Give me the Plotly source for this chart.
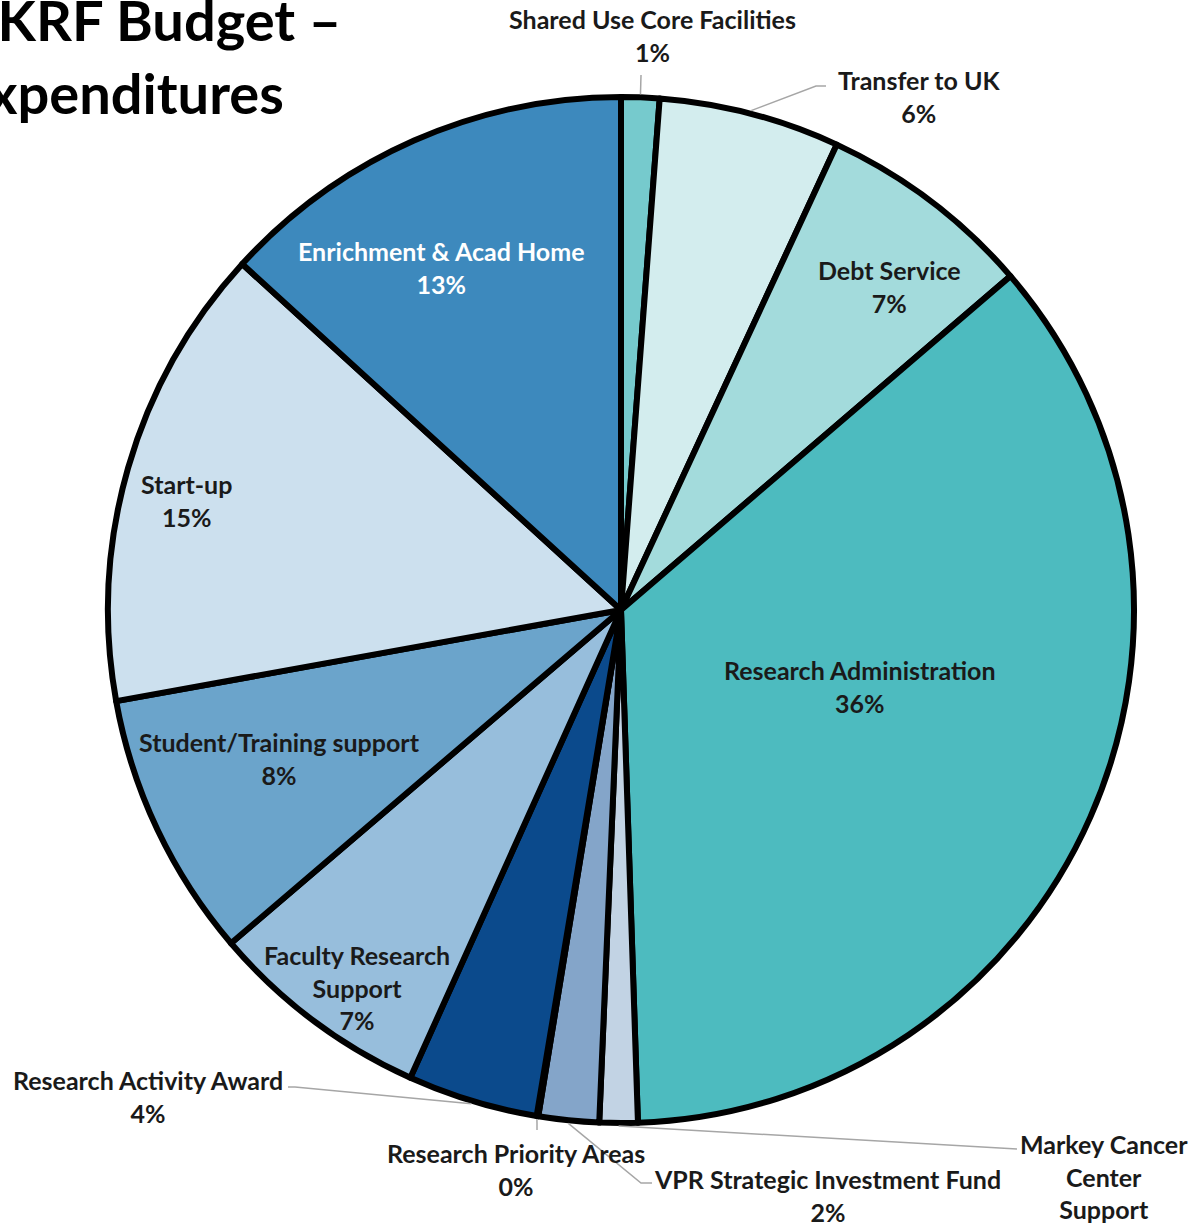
import math
import plotly.graph_objects as go

# Expenditure shares (percent of total budget), clockwise from 12 o'clock
categories = [
    "Shared Use Core Facilities",
    "Transfer to UK",
    "Debt Service",
    "Research Administration",
    "Markey Cancer Center Support",
    "VPR Strategic Investment Fund",
    "Research Priority Areas",
    "Research Activity Award",
    "Faculty Research Support",
    "Student/Training support",
    "Start-up",
    "Enrichment & Acad Home",
]
shares = [1.2, 5.7, 6.8, 35.7, 1.2, 1.9, 0.05, 4.1, 7.0, 8.4, 14.6, 13.2]
colors = [
    "#76CACD", "#D3EDEE", "#A3DBDC", "#4DBBBF", "#C2D3E4", "#84A5C9",
    "#5E8FC0", "#0B4A8C", "#97BEDC", "#6BA4CB", "#CCE0EE", "#3D89BD",
]

W, H = 1189, 1225
CX, CY, R = 621, 610, 513
FONT = "Lato, 'Open Sans', sans-serif"
LABEL_SIZE = 25
total = sum(shares)


def px(x):
    return x / W


def py(y):
    return 1 - y / H


def pct(i):
    return f"{round(shares[i] / total * 100):.0f}%"


def edge_point(i, extra=0):
    """Pixel point on the rim at the middle angle of slice i."""
    start = sum(shares[:i]) / total * 360
    mid = math.radians(start + shares[i] / total * 360 / 2)
    r = R + extra
    return CX + r * math.sin(mid), CY - r * math.cos(mid)


fig = go.Figure(
    go.Pie(
        labels=categories,
        values=shares,
        sort=False,
        direction="clockwise",
        rotation=0,
        textinfo="none",
        marker=dict(colors=colors, line=dict(color="black", width=6)),
        domain=dict(x=[px(CX - R), px(CX + R)], y=[py(CY + R), py(CY - R)]),
        showlegend=False,
    )
)

# label text lines, anchor centre in pixels, text colour
label_specs = {
    0: (["Shared Use Core Facilities"], (652, 35), "#1a1a1a"),
    1: (["Transfer to UK"], (919, 96), "#1a1a1a"),
    2: (["Debt Service"], (889, 286), "#1a1a1a"),
    3: (["Research Administration"], (860, 686), "#1a1a1a"),
    5: (["VPR Strategic Investment Fund"], (827, 1195), "#1a1a1a"),
    6: (["Research Priority Areas"], (516, 1169), "#1a1a1a"),
    7: (["Research Activity Award"], (148, 1096), "#1a1a1a"),
    8: (["Faculty Research", "Support"], (357, 987), "#1a1a1a"),
    9: (["Student/Training support"], (279, 758), "#1a1a1a"),
    10: (["Start-up"], (186, 500), "#1a1a1a"),
    11: (["Enrichment & Acad Home"], (441, 268), "#ffffff"),
}

annotations = []
for i, (lines, (x, y), col) in label_specs.items():
    annotations.append(dict(
        x=px(x), y=py(y), xref="paper", yref="paper",
        xanchor="center", yanchor="middle", showarrow=False,
        text="<br>".join(lines + [pct(i)]),
        font=dict(family=FONT, size=LABEL_SIZE, color=col, weight="bold"),
        align="center",
    ))

# Markey label sits at the bottom edge; anchored from its first line
annotations.append(dict(
    x=px(1104), y=py(1127), xref="paper", yref="paper",
    xanchor="center", yanchor="top", showarrow=False,
    text="<br>".join(["Markey Cancer", "Center", "Support"]),
    font=dict(family=FONT, size=LABEL_SIZE, color="#1a1a1a", weight="bold"),
    align="center",
))

# Title, partly running off the left edge
annotations.append(dict(
    x=px(-46), y=py(-16), xref="paper", yref="paper",
    xanchor="left", yanchor="top", showarrow=False,
    text="UKRF Budget –<br>Expenditures",
    font=dict(family=FONT, size=56, color="black", weight="bold"), align="left",
))

# Leader lines: from the slice rim to the label
leaders = {
    0: [(641, 75)],
    1: [(816, 86), (826, 86)],
    4: [(1017, 1149)],
    5: [(641, 1183), (652, 1183)],
    6: [(537, 1130)],
    7: [(295, 1087), (288, 1087)],
}
shapes = []
for i, pts in leaders.items():
    sx, sy = edge_point(i, 3)
    path = f"M {px(sx)},{py(sy)}" + "".join(f" L {px(x)},{py(y)}" for x, y in pts)
    shapes.append(dict(type="path", path=path, xref="paper", yref="paper",
                       line=dict(color="#A6A6A6", width=1.5)))

fig.update_layout(
    width=W, height=H,
    margin=dict(l=0, r=0, t=0, b=0),
    paper_bgcolor="white", plot_bgcolor="white",
    annotations=annotations, shapes=shapes,
)

fig.write_html("out.html")
